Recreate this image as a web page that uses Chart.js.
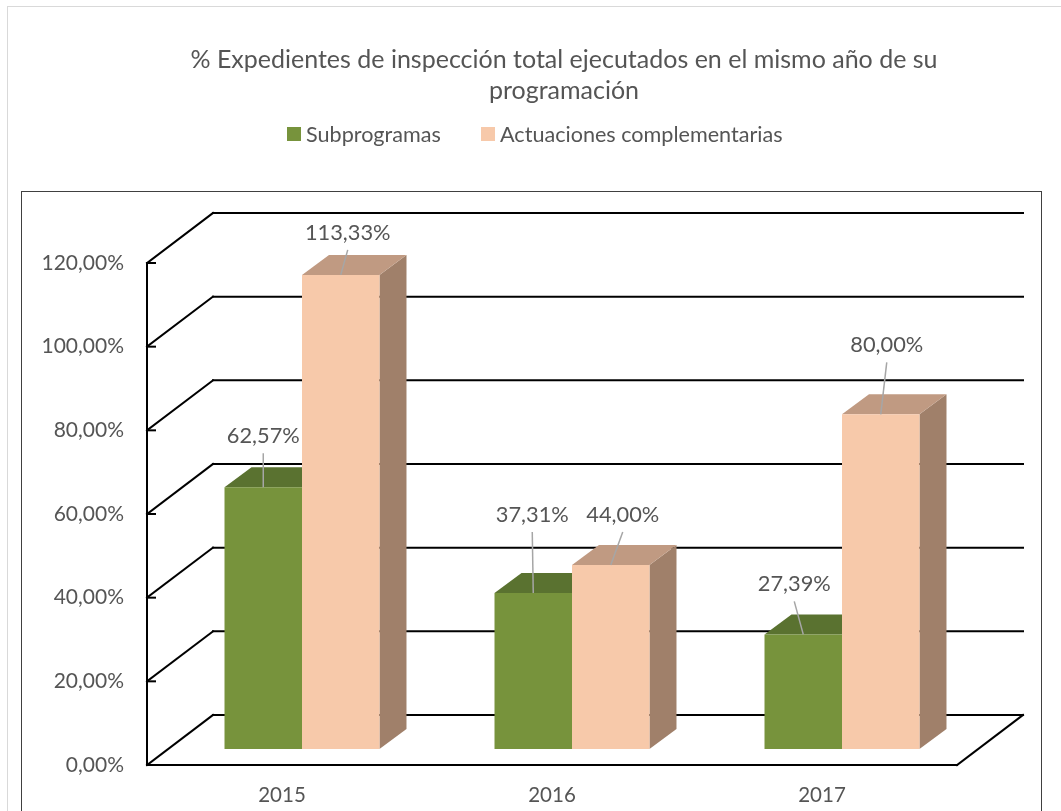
<!DOCTYPE html>
<html>
<head>
<meta charset="utf-8">
<script src="https://cdn.jsdelivr.net/npm/chart.js@4.4.0/dist/chart.umd.min.js"></script>
<style>
  html, body { margin: 0; padding: 0; background: #fff; }
  #wrap { width: 1061px; height: 811px; }
</style>
</head>
<body>
<div id="wrap"><canvas id="chart" width="1061" height="811"></canvas></div>
<script>
// Data
const years = ['2015', '2016', '2017'];
const subprogramas = [62.57, 37.31, 27.39];
const actuaciones = [113.33, 44.00, 80.00];
const seriesNames = ['Subprogramas', 'Actuaciones complementarias'];
const titleLines = ['% Expedientes de inspección total ejecutados en el mismo año de su', 'programación'];

const FONT = 'Lato, "Open Sans", sans-serif';
const TEXT = '#555555';

// 3D look: depth of the walls, where the bars stand inside it, and their own depth
const wallDepth = { x: 66, y: -50 };
const barFront = { x: 20, y: -16 };
const barDepth = { x: 27, y: -20 };
const faces = [
  { front: '#77933C', top: '#5A7230', side: '#4E6328' },
  { front: '#F7C9AA', top: '#C09A82', side: '#A0806A' }
];
// data labels were dragged around in the original, offsets from the bar top
const labelOffsets = [
  [[0, -51], [-1, -78], [-9, -50]],
  [[7, -42], [12, -50], [6, -69]]
];

function pct(v) {
  return v.toFixed(2).replace('.', ',') + '%';
}

function poly(ctx, pts, fill) {
  ctx.beginPath();
  ctx.moveTo(pts[0][0], pts[0][1]);
  for (let i = 1; i < pts.length; i++) ctx.lineTo(pts[i][0], pts[i][1]);
  ctx.closePath();
  ctx.fillStyle = fill;
  ctx.fill();
}

function line(ctx, x1, y1, x2, y2) {
  ctx.beginPath();
  ctx.moveTo(x1, y1);
  ctx.lineTo(x2, y2);
  ctx.stroke();
}

// Frame, title and legend
const framePlugin = {
  id: 'frame',
  beforeDraw(chart) {
    const ctx = chart.ctx;
    ctx.save();
    ctx.strokeStyle = '#D9D9D9';
    ctx.lineWidth = 1;
    ctx.strokeRect(7.5, 6.5, 1070, 820);
    ctx.strokeStyle = '#404040';
    ctx.strokeRect(21.5, 191.5, 1020, 640);

    ctx.fillStyle = TEXT;
    ctx.font = '25px ' + FONT;
    ctx.textAlign = 'center';
    ctx.textBaseline = 'alphabetic';
    ctx.fillText(titleLines[0], 564, 68);
    ctx.fillText(titleLines[1], 564, 99);

    ctx.font = '21.6px ' + FONT;
    ctx.textAlign = 'left';
    const legendX = [287, 481];
    seriesNames.forEach((name, i) => {
      ctx.fillStyle = faces[i].front;
      ctx.fillRect(legendX[i], 127, 14, 14);
      ctx.fillStyle = TEXT;
      ctx.fillText(name, legendX[i] + 19, 141.5);
    });
    ctx.restore();
  }
};

// Walls, floor and the top / side faces of the bars
const bars3dPlugin = {
  id: 'bars3d',
  beforeDatasetsDraw(chart) {
    const ctx = chart.ctx;
    const area = chart.chartArea;
    const yScale = chart.scales.y;
    const dx = wallDepth.x, dy = wallDepth.y;
    ctx.save();
    ctx.strokeStyle = '#000';
    ctx.lineWidth = 2;
    ctx.lineCap = 'square';
    yScale.ticks.forEach(t => {
      const y = yScale.getPixelForValue(t.value);
      line(ctx, area.left + dx, y + dy, area.right + dx, y + dy);
      line(ctx, area.left, y, area.left + dx, y + dy);
      line(ctx, area.left, y, area.left + 8, y);
    });
    const y0 = yScale.getPixelForValue(0);
    line(ctx, area.right, y0, area.right + dx, y0 + dy);

    chart.data.datasets.forEach((ds, i) => {
      chart.getDatasetMeta(i).data.forEach(bar => {
        const L = bar.x - bar.width / 2 + barFront.x;
        const R = L + bar.width;
        const T = bar.y + barFront.y;
        const B = bar.base + barFront.y;
        const bx = barDepth.x, by = barDepth.y;
        poly(ctx, [[R, T], [R + bx, T + by], [R + bx, B + by], [R, B]], faces[i].side);
        poly(ctx, [[L, T], [R, T], [R + bx, T + by], [L + bx, T + by]], faces[i].top);
      });
    });
    ctx.restore();
    // front faces are drawn by Chart.js, moved into the depth of the box
    ctx.save();
    ctx.translate(barFront.x, barFront.y);
  },
  afterDatasetsDraw(chart) {
    const ctx = chart.ctx;
    ctx.restore();
    ctx.save();
    ctx.font = '21.8px ' + FONT;
    ctx.textAlign = 'center';
    ctx.textBaseline = 'middle';
    chart.data.datasets.forEach((ds, i) => {
      chart.getDatasetMeta(i).data.forEach((bar, j) => {
        const cx = bar.x + barFront.x;
        const cy = bar.y + barFront.y;
        const lx = cx + labelOffsets[i][j][0];
        const ly = cy + labelOffsets[i][j][1];
        ctx.strokeStyle = '#A6A6A6';
        ctx.lineWidth = 1.5;
        line(ctx, lx, ly + 17, cx, cy);
        ctx.fillStyle = TEXT;
        ctx.fillText(pct(ds.data[j]), lx, ly);
      });
    });
    ctx.restore();
  }
};

function draw() {
  Chart.defaults.font.family = FONT;
  Chart.defaults.color = TEXT;
  new Chart(document.getElementById('chart').getContext('2d'), {
    type: 'bar',
    data: {
      labels: years,
      datasets: [
        { label: seriesNames[0], data: subprogramas, backgroundColor: faces[0].front },
        { label: seriesNames[1], data: actuaciones, backgroundColor: faces[1].front }
      ]
    },
    options: {
      responsive: false,
      animation: false,
      events: [],
      layout: { padding: { top: 263, left: 0, right: 104, bottom: 0 } },
      datasets: {
        bar: { barPercentage: 1, categoryPercentage: 0.574, borderWidth: 0 }
      },
      plugins: {
        legend: { display: false },
        title: { display: false },
        tooltip: { enabled: false }
      },
      scales: {
        x: {
          afterFit: s => { s.height = 46; },
          grid: { display: false, drawTicks: false },
          border: { display: true, color: '#000', width: 2 },
          ticks: { padding: 18, font: { size: 20.5 }, color: TEXT }
        },
        y: {
          min: 0,
          max: 120,
          afterFit: s => { s.width = 147; },
          grid: { display: false, drawTicks: false },
          border: { display: true, color: '#000', width: 2 },
          ticks: { stepSize: 20, padding: 23, font: { size: 21 }, color: TEXT, callback: v => pct(v) }
        }
      }
    },
    plugins: [framePlugin, bars3dPlugin]
  });
}

document.fonts.load('20px Lato').then(draw, draw);
</script>
</body>
</html>
